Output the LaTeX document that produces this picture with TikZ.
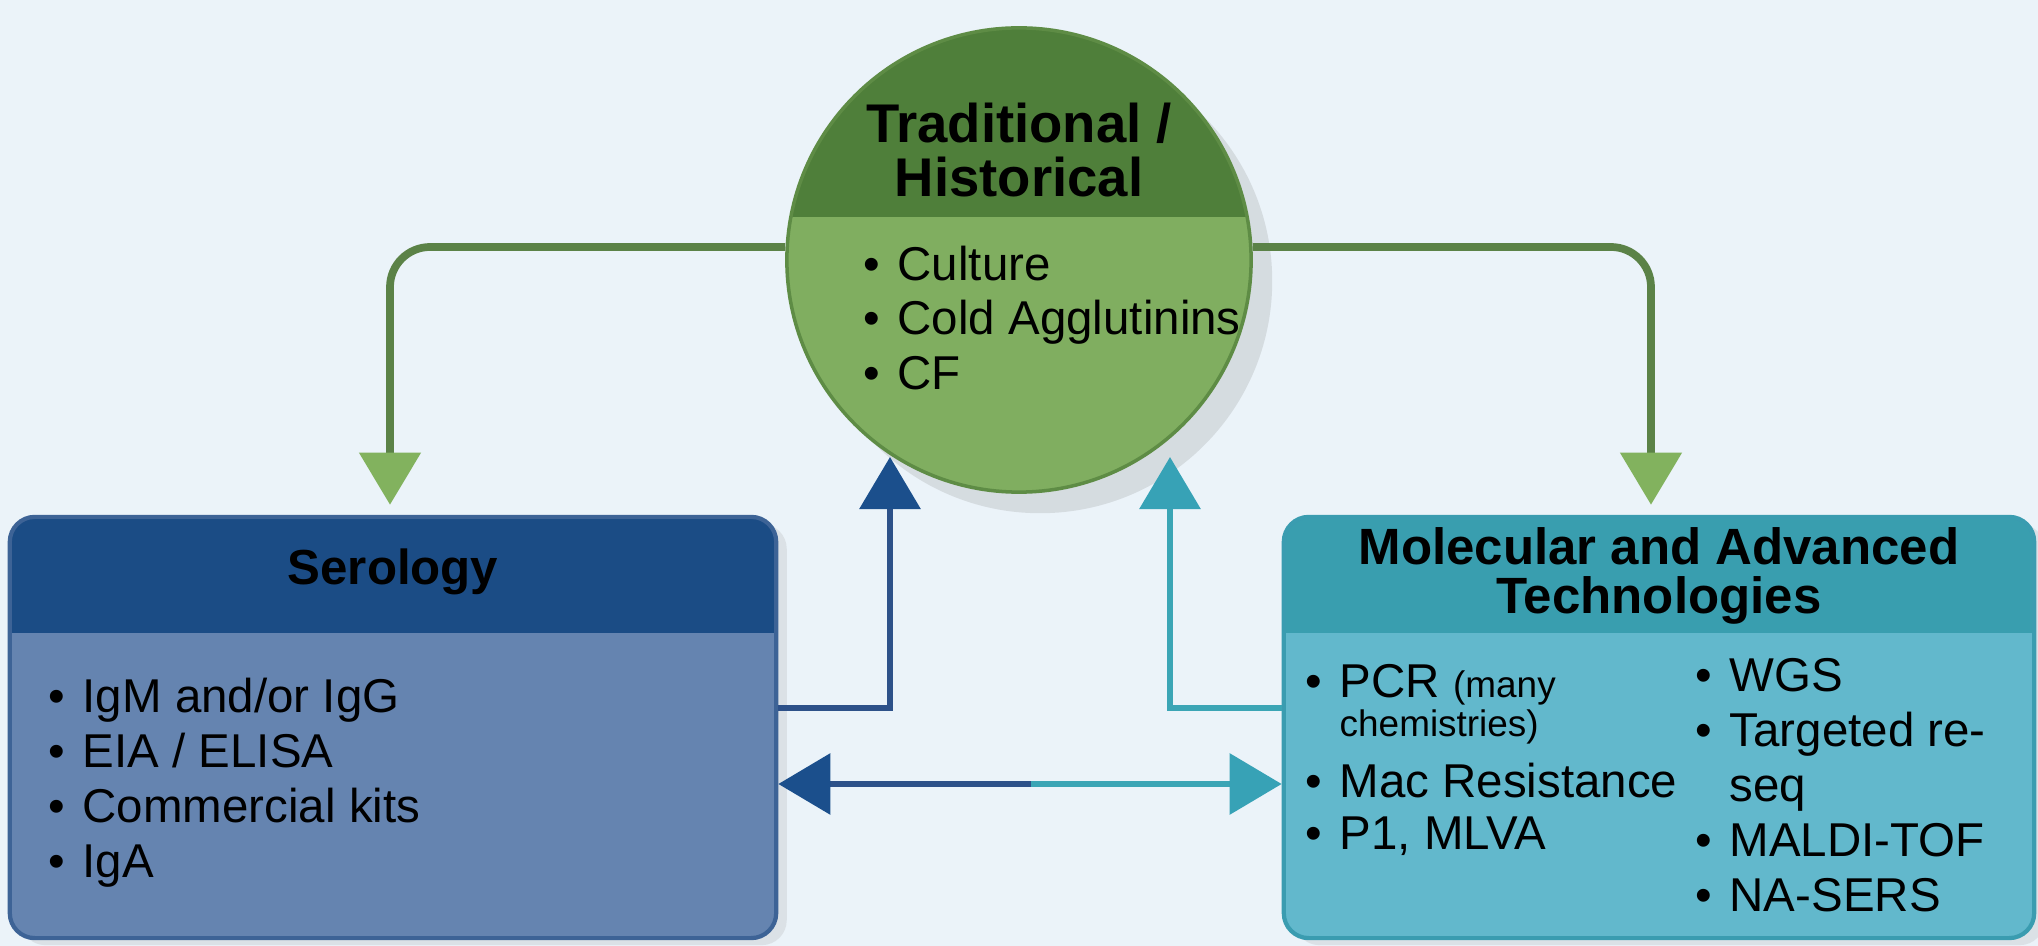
\documentclass[tikz,border=0pt]{standalone}
\usepackage{fontspec}
\setmainfont{Liberation Sans}
\usepackage{xcolor}
\usepackage{tikz}
\usetikzlibrary{arrows.meta,positioning,calc,shadows}

\definecolor{bgcol}{HTML}{EBF3F9}
\definecolor{serhead}{HTML}{1B4C85}
\definecolor{serbody}{HTML}{6584B0}
\definecolor{serline}{HTML}{3D6396}
\definecolor{molhead}{HTML}{399EAF}
\definecolor{molbody}{HTML}{62B8CC}
\definecolor{molline}{HTML}{3A9CB0}
\definecolor{tradhead}{HTML}{4F7F3A}
\definecolor{tradbody}{HTML}{80AE60}
\definecolor{tradline}{HTML}{5E8C45}
\definecolor{gline}{HTML}{5B8247}
\definecolor{ghead}{HTML}{82B25E}
\definecolor{bline}{HTML}{2D5189}
\definecolor{bhead}{HTML}{1B4F8C}
\definecolor{tline}{HTML}{3BA5B5}
\definecolor{thead}{HTML}{37A2B6}

\newcommand{\bul}{\makebox[0.34cm][l]{•}}
\newcommand{\nobul}{\makebox[0.34cm][l]{}}

\begin{document}
\begin{tikzpicture}[x=0.01cm,y=-0.01cm,
    box/.style 2 args={draw=#1,fill=#2,line width=1.2pt,rounded corners=0.25cm,
        minimum height=4.21cm,inner sep=0pt},
    headfill/.style 2 args={path picture={\fill[#1,sharp corners]
        (path picture bounding box.north west) rectangle
        ($(path picture bounding box.north east)+(0,#2)$);}},
    title/.style={align=center,inner sep=0pt},
    items/.style={align=left,inner sep=0pt,anchor=west,
        font=\fontsize{13.5}{15.6}\selectfont},
    arrow/.style 2 args={-{Triangle[width=0.6cm,length=0.52cm,color=#2]},
        line width=1.8pt,draw=#1},
    garrow/.style={arrow={gline}{ghead},line width=2.2pt,rounded corners=0.4cm},
    barrow/.style={arrow={bline}{bhead}},
    tarrow/.style={arrow={tline}{thead}}
]
\useasboundingbox (0,0) rectangle (2038,946);
\fill[bgcol] (0,0) rectangle (2038,946);

\node[box={serline}{serbody},headfill={serhead}{116},minimum width=7.66cm,
    drop shadow={opacity=0.15,shadow xshift=3pt,shadow yshift=-2pt}] (ser) at (393,727.5) {};
\node[box={molline}{molbody},headfill={molhead}{116},minimum width=7.50cm,
    drop shadow={opacity=0.15,shadow xshift=3pt,shadow yshift=-2pt}] (mol) at (1659,727.5) {};
\node[circle,draw=tradline,fill=tradbody,line width=1pt,minimum size=4.64cm,
    headfill={tradhead}{189},
    drop shadow={opacity=0.2,shadow xshift=6pt,shadow yshift=-6pt}] (trad) at (1019,260) {};

\node[title,font=\fontsize{15.5}{15.6}\selectfont\bfseries] (tradT) at (1019,150)
    {Traditional /\\Historical};
\node[title,font=\fontsize{14}{15}\selectfont\bfseries] (serT) at (393,572) {Serology};
\node[title,font=\fontsize{14.5}{13.7}\selectfont\bfseries] (molT) at (1659,576)
    {Molecular and Advanced\\Technologies};

\node[items] (tradL) at (863,318) {\bul Culture\\\bul Cold Agglutinins\\\bul CF};
\node[items] (serL) at (48,783) {\bul IgM and/or IgG\\\bul EIA / ELISA\\
    \bul Commercial kits\\\bul IgA};
\node[items] (molL) at (1305,760) {\bul PCR {\fontsize{10.5}{11}\selectfont (many}\\[-4.5pt]
    \nobul{\fontsize{10.5}{11}\selectfont chemistries)}\\[1.8pt]
    \bul Mac Resistance\\[-0.8pt]\bul P1, MLVA};
\node[items] (molR) at (1695,785) {\bul WGS\\\bul Targeted re-\\\nobul seq\\
    \bul MALDI-TOF\\\bul NA-SERS};

\coordinate (btip) at (890,457);
\coordinate (ttip) at (1170,457);
\coordinate (mid) at (1031,784);

\draw[garrow] ($(trad.west)+(0,-13)$) -| ($(ser.north)+(-3,-10)$);
\draw[garrow] ($(trad.east)+(0,-13)$) -| ($(mol.north)+(-8,-10)$);
\draw[barrow] ($(ser.east)+(0,-19.5)$) -| (btip);
\draw[tarrow] ($(mol.west)+(0,-19.5)$) -| (ttip);
\draw[barrow] (mid) -- (ser.east |- mid);
\draw[tarrow] (mid) -- (mol.west |- mid);
\end{tikzpicture}
\end{document}
